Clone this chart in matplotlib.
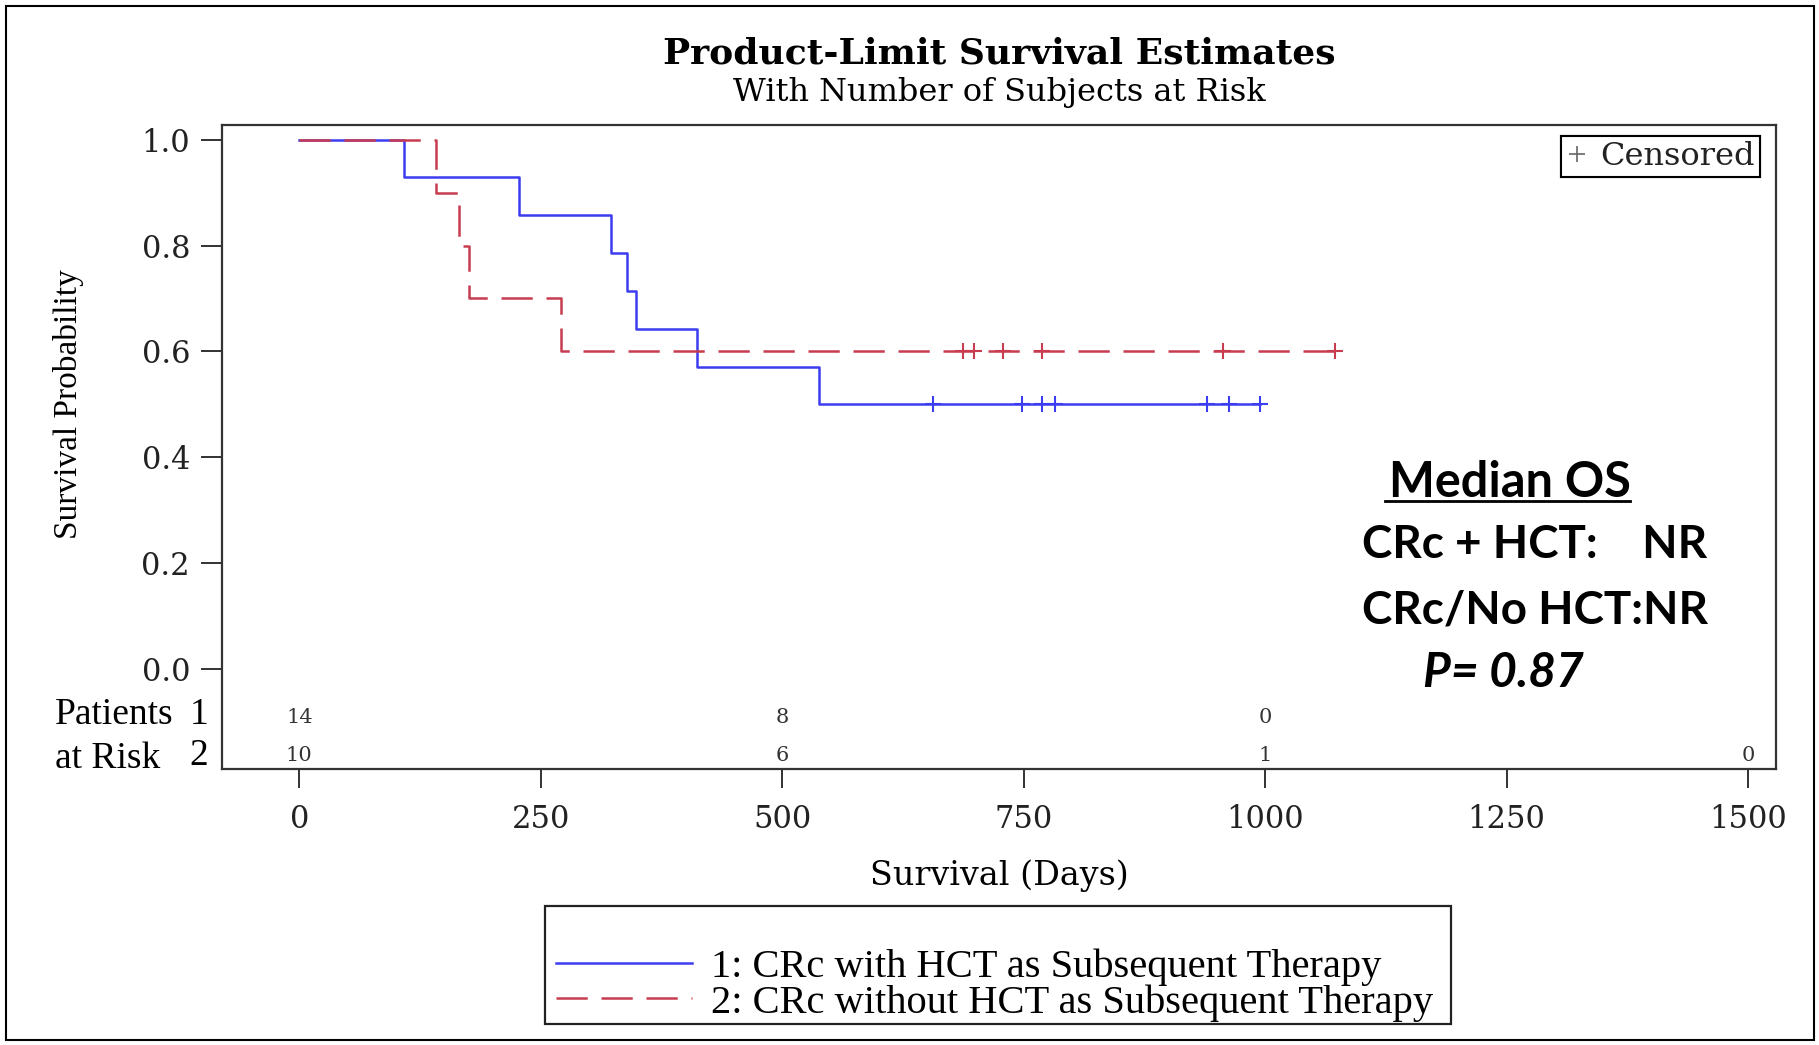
import matplotlib
matplotlib.use("Agg")
import matplotlib.pyplot as plt
from matplotlib.lines import Line2D
from matplotlib.patches import Rectangle

# ---------------- data ----------------
blue_step_days = [0, 108, 228, 323, 339, 349, 412, 538]
blue_step_surv = [1.0, 0.929, 0.857, 0.786, 0.714, 0.643, 0.571, 0.5]
blue_end_day = 995
blue_censor_days = [656, 748, 769, 782, 940, 963, 995]
blue_censor_surv = [0.5, 0.5, 0.5, 0.5, 0.5, 0.5, 0.5]

red_step_days = [0, 142, 165, 176, 271]
red_step_surv = [1.0, 0.9, 0.8, 0.7, 0.6]
red_end_day = 1072
red_censor_days = [687, 699, 729, 769, 956, 1072]
red_censor_surv = [0.6, 0.6, 0.6, 0.6, 0.6, 0.6]

risk_days_1 = [0, 500, 1000]
risk_counts_1 = [14, 8, 0]
risk_days_2 = [0, 500, 1000, 1500]
risk_counts_2 = [10, 6, 1, 0]

x_ticks = [0, 250, 500, 750, 1000, 1250, 1500]
y_ticks = [0.0, 0.2, 0.4, 0.6, 0.8, 1.0]

label_1 = "1: CRc with HCT as Subsequent Therapy"
label_2 = "2: CRc without HCT as Subsequent Therapy"

BLUE = "#3c3cf0"
RED = "#c83c50"
W, H = 1819, 1045

fig = plt.figure(figsize=(W / 100, H / 100), dpi=100)
fig.patch.set_facecolor("white")
ax = fig.add_axes([222 / W, 1 - 769 / H, (1776 - 222) / W, (769 - 125) / H])

bx = blue_step_days + [blue_end_day]
by = blue_step_surv + [blue_step_surv[-1]]
rx = red_step_days + [red_end_day]
ry = red_step_surv + [red_step_surv[-1]]

l1, = ax.step(bx, by, where="post", color=BLUE, lw=1.8, zorder=3, label=label_1)
l2, = ax.step(rx, ry, where="post", color=RED, lw=1.8, ls=(0, (12.5, 5.5)),
              zorder=4, label=label_2)
ax.plot(blue_censor_days, blue_censor_surv, ls="", marker="+", ms=11, mew=1.5,
        color=BLUE, zorder=3)
ax.plot(red_censor_days, red_censor_surv, ls="", marker="+", ms=11, mew=1.5,
        color=RED, zorder=4)

ax.set_xlim(-80, 1529)
ax.set_ylim(-0.19, 1.028)
ax.set_xticks(x_ticks)
ax.set_yticks(y_ticks)
ax.set_yticklabels([f"{v:.1f}" for v in y_ticks])
serif_wide = "DejaVu Serif"
serif = "Liberation Serif"
for lab in ax.get_xticklabels() + ax.get_yticklabels():
    lab.set_fontfamily(serif_wide)
    lab.set_fontsize(22)
ax.tick_params(axis="y", length=15, width=1.3, pad=8, colors="#222222")
ax.tick_params(axis="x", length=14, width=1.3, pad=11, colors="#222222")
for s in ax.spines.values():
    s.set_linewidth(1.6)
    s.set_color("#333333")

ax.set_xlabel("Survival (Days)", fontfamily=serif_wide, fontsize=24)
ax.xaxis.set_label_coords(0.5, -0.141)
ax.set_ylabel("Survival Probability", fontfamily=serif, fontsize=24)
ax.yaxis.set_label_coords(-0.089, 0.566)

# at-risk rows
row_y = [-0.092, -0.165]
for d, c in zip(risk_days_1, risk_counts_1):
    ax.text(d, row_y[0], str(c), ha="center", va="center", fontsize=15,
            fontfamily=serif_wide, color="#333333")
for d, c in zip(risk_days_2, risk_counts_2):
    ax.text(d, row_y[1], str(c), ha="center", va="center", fontsize=15,
            fontfamily=serif_wide, color="#333333")
ax.text(-253, -0.088, "Patients", ha="left", va="center", fontsize=27,
        fontfamily=serif, clip_on=False)
ax.text(-253, -0.170, "at Risk", ha="left", va="center", fontsize=27,
        fontfamily=serif, clip_on=False)
ax.text(-104, -0.088, "1", ha="center", va="center", fontsize=27,
        fontfamily=serif, clip_on=False)
ax.text(-104, -0.165, "2", ha="center", va="center", fontsize=27,
        fontfamily=serif, clip_on=False)

# titles
fig.text(999 / W, 1 - 54 / H, "Product-Limit Survival Estimates", ha="center",
         va="center", fontsize=26, fontweight="bold", fontfamily=serif_wide)
fig.text(999 / W, 1 - 93 / H, "With Number of Subjects at Risk", ha="center",
         va="center", fontsize=23, fontfamily=serif_wide)

# censored legend
cens_handle = Line2D([], [], ls="", marker="+", ms=12, mew=1.2, color="#666666")
leg_c = ax.legend([cens_handle], ["Censored"], loc="upper right",
                  bbox_to_anchor=(0.9897, 0.983), borderaxespad=0,
                  fancybox=False, edgecolor="black", framealpha=1,
                  handlelength=0.7, handletextpad=0.4, borderpad=0.15,
                  prop={"family": serif_wide, "size": 23})
leg_c.get_frame().set_linewidth(1.5)
for t in leg_c.get_texts():
    t.set_color("#222222")
ax.add_artist(leg_c)

# main legend (box drawn separately)
fig.add_artist(Rectangle((545 / W, 1 - 1024 / H), (1451 - 545) / W,
                         (1024 - 906) / H, fill=True, facecolor="white",
                         edgecolor="#222222", lw=1.6,
                         transform=fig.transFigure, zorder=1))
leg = fig.legend([l1, l2], [label_1, label_2], loc="center left",
                 bbox_to_anchor=(556 / W, 1 - 985 / H), borderaxespad=0,
                 frameon=False, handlelength=3.35, handletextpad=0.48,
                 borderpad=0.0, labelspacing=-0.04,
                 prop={"family": serif, "size": 29.2})
leg.set_zorder(2)

# Median OS annotation
sans = "Lato"
fig.text(1389 / W, 1 - 482.5 / H, "Median OS", ha="left", va="center",
         fontsize=35, fontweight="bold", fontfamily=sans)
fig.add_artist(Line2D([1385 / W, 1630 / W], [1 - 501 / H, 1 - 501 / H],
                      color="black", lw=2, transform=fig.transFigure))
fig.text(1362 / W, 1 - 545.5 / H, "CRc + HCT:    NR", ha="left", va="center",
         fontsize=33, fontweight="bold", fontfamily=sans)
fig.text(1362 / W, 1 - 610.5 / H, "CRc/No HCT:NR", ha="left", va="center",
         fontsize=33, fontweight="bold", fontfamily=sans)
fig.text(1423 / W, 1 - 673 / H, "P= 0.87", ha="left", va="center",
         fontsize=34.5, fontweight="bold", fontstyle="italic", fontfamily=sans)

# outer border
fig.add_artist(Rectangle((6 / W, 5 / H), (1814 - 6) / W, (1039 - 5) / H,
                         fill=False, edgecolor="black", lw=1.5,
                         transform=fig.transFigure))

fig.savefig("out.png", dpi=100)
